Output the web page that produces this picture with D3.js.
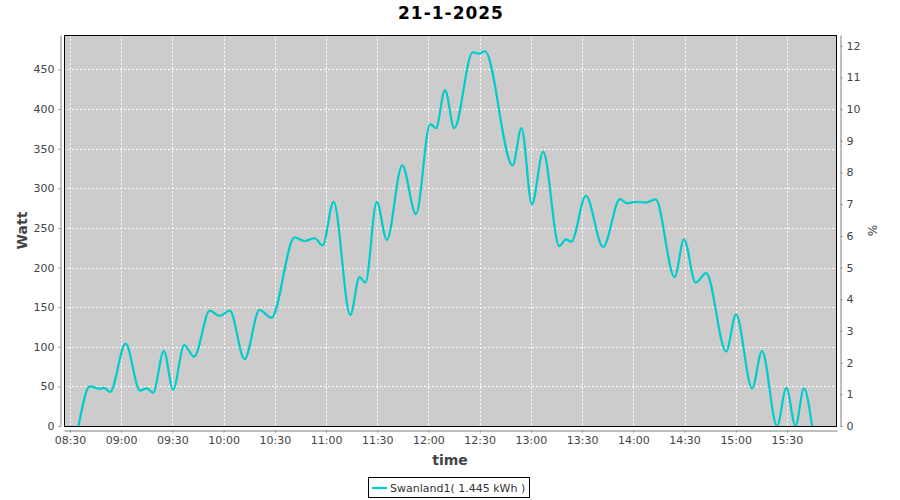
<!DOCTYPE html>
<html><head><meta charset="utf-8">
<script src="https://cdn.jsdelivr.net/npm/d3@7"></script>
<style>body{margin:0;background:#fff;}svg{display:block;font-family:"DejaVu Sans",sans-serif;}</style>
</head><body><svg id="c" width="900" height="500"></svg>
<script>
const title = "21-1-2025";
const seriesName = "Swanland1( 1.445 kWh )";
const times = ["08:35:00","08:41:40","08:47:00","08:50:00","08:53:30","09:02:36","09:11:00","09:15:00","09:18:40","09:25:00","09:30:24","09:36:54","09:42:42","09:51:54","09:57:42","10:03:36","10:12:18","10:21:00","10:28:00","10:41:36","10:47:24","10:53:18","10:58:00","11:04:24","11:14:12","11:19:36","11:23:06","11:29:42","11:35:36","11:44:36","11:52:42","12:01:00","12:04:24","12:09:42","12:15:06","12:25:54","12:29:48","12:33:06","12:49:18","12:54:30","13:00:36","13:07:12","13:16:36","13:20:30","13:23:42","13:32:12","13:42:18","13:52:12","13:56:30","14:01:24","14:07:12","14:13:06","14:24:12","14:29:42","14:36:30","14:42:42","14:54:24","15:00:12","15:09:36","15:15:24","15:24:12","15:29:42","15:35:00","15:40:00","15:44:42"];
const watts = [0,50,47,48,43,104,44.6,47.5,42,94.6,46,102,87.5,145.5,139,145.5,84.5,146.4,136.7,238,233.5,237,228,283,140,188,181,283,235,329,267.5,381,376,424,376,471.5,470,473,329,376,280,346,227,235.6,232.6,290.6,226,286.4,281,283,282,286,188,235.6,181,193,94,141,47.5,94.6,0,48,0,47.5,0];
const xTickLabels = ["08:30","09:00","09:30","10:00","10:30","11:00","11:30","12:00","12:30","13:00","13:30","14:00","14:30","15:00","15:30"];
const yLeftTicks = [0,50,100,150,200,250,300,350,400,450];
const yRightTicks = [0,1,2,3,4,5,6,7,8,9,10,11,12];

const parse = d3.timeParse("%H:%M:%S");
const data = times.map((t,i)=>({t:parse(t), v:watts[i]}));

const svg = d3.select("#c");
const L=64, R=837, T=35, B=426;
const x = d3.scaleTime().domain([parse("08:26:29"), parse("15:59:20")]).range([L,R]);
const y = d3.scaleLinear().domain([0,493.5]).range([B,T]);
const y2 = d3.scaleLinear().domain([0,493.5/40]).range([B,T]);
const xTicks = xTickLabels.map(s=>parse(s+":00"));

// plot background
svg.append("rect").attr("x",L).attr("y",T).attr("width",R-L).attr("height",B-T).attr("fill","#cccccc");

// grid
const g = svg.append("g");
g.selectAll("line.v").data(xTicks).join("line")
  .attr("x1",d=>Math.round(x(d))+0.5).attr("x2",d=>Math.round(x(d))+0.5).attr("y1",T).attr("y2",B)
  .attr("stroke","#fff").attr("stroke-dasharray","2,2");
g.selectAll("line.h").data(yLeftTicks).join("line")
  .attr("y1",d=>Math.round(y(d))+0.5).attr("y2",d=>Math.round(y(d))+0.5).attr("x1",L).attr("x2",R)
  .attr("stroke","#fff").attr("stroke-dasharray","2,2");

// clip & line
svg.append("clipPath").attr("id","clp").append("rect").attr("x",L).attr("y",T).attr("width",R-L).attr("height",B-T);
const line = d3.line().x(d=>x(d.t)).y(d=>y(d.v)).curve(d3.curveMonotoneX);
svg.append("path").datum(data).attr("clip-path","url(#clp)").attr("d",line)
  .attr("fill","none").attr("stroke","#00cccc").attr("stroke-width",2.2);

// plot border
svg.append("rect").attr("x",L+0.5).attr("y",T+0.5).attr("width",R-L-1).attr("height",B-T)
  .attr("fill","none").attr("stroke","#000").attr("stroke-width",1);

// axes
const axStyle = sel => {
  sel.selectAll(".domain").attr("stroke","#808080");
  sel.selectAll(".tick line").attr("stroke","#808080");
  sel.selectAll(".tick text").attr("fill","#444").style("font-size","11px").style("font-family","DejaVu Sans, sans-serif");
};
const xAxis = svg.append("g").attr("transform",`translate(0,${B+4.5})`)
  .call(d3.axisBottom(x).tickValues(xTicks).tickFormat((d,i)=>xTickLabels[i]).tickSize(2).tickSizeOuter(0).tickPadding(4));
axStyle(xAxis);
const yAxis = svg.append("g").attr("transform",`translate(${L-3.5},0)`)
  .call(d3.axisLeft(y).tickValues(yLeftTicks).tickSize(2).tickSizeOuter(0).tickPadding(4));
axStyle(yAxis);
const y2Axis = svg.append("g").attr("transform",`translate(${R+3.5},0)`)
  .call(d3.axisRight(y2).tickValues(yRightTicks).tickSize(2).tickSizeOuter(0).tickPadding(4));
axStyle(y2Axis);

// titles
svg.append("text").attr("x",451).attr("y",19).attr("text-anchor","middle")
  .style("font-size","17px").style("font-weight","bold").style("letter-spacing","1px").attr("fill","#000").text(title);
svg.append("text").attr("x",450).attr("y",465).attr("text-anchor","middle")
  .style("font-size","14px").style("font-weight","bold").attr("fill","#444").text("time");
svg.append("text").attr("transform",`translate(27,${(T+B)/2}) rotate(-90)`).attr("text-anchor","middle")
  .style("font-size","14px").style("font-weight","bold").attr("fill","#444").text("Watt");
svg.append("text").attr("transform",`translate(868,${(T+B)/2}) rotate(90)`).attr("text-anchor","middle")
  .style("font-size","12px").attr("fill","#444").text("%");

// legend
const lg = svg.append("g");
lg.append("rect").attr("x",368.5).attr("y",477.5).attr("width",161).attr("height",20).attr("fill","#fff").attr("stroke","#000");
lg.append("line").attr("x1",372).attr("x2",387).attr("y1",488).attr("y2",488).attr("stroke","#00cccc").attr("stroke-width",2.2);
lg.append("text").attr("x",390).attr("y",492).style("font-size","11px").attr("fill","#333").text(seriesName);
</script></body></html>
